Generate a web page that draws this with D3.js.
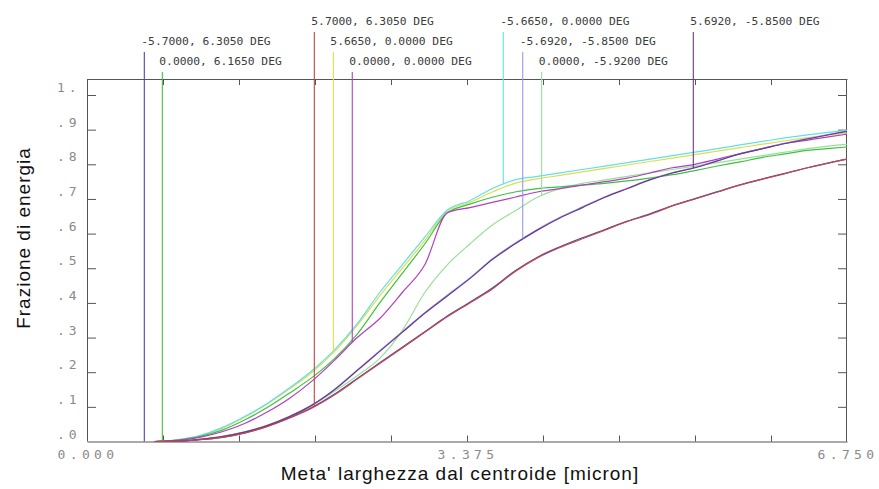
<!DOCTYPE html>
<html>
<head>
<meta charset="utf-8">
<style>
  html, body { margin: 0; padding: 0; background: #fff; }
  svg { display: block; }
</style>
</head>
<body>
<div id="ee-chart"></div>
<script src="https://cdn.jsdelivr.net/npm/d3@7"></script>
<script>
// half width from centroid (micron), shared by all curves
const radius = [0.6, 0.8, 1.0, 1.2, 1.4, 1.6, 1.8, 2.0, 2.2, 2.4, 2.6, 2.8, 3.0, 3.2, 3.4, 3.6,
  3.8, 4.0, 4.2, 4.4, 4.6, 4.8, 5.0, 5.2, 5.4, 5.6, 5.8, 6.0, 6.2, 6.4, 6.6, 6.75];

// encircled energy fraction, one array per field
const ee1 = [0, 0.001, 0.005, 0.012, 0.025, 0.044, 0.069, 0.099, 0.137, 0.182, 0.227, 0.272, 0.317, 0.362, 0.402, 0.443,
  0.492, 0.532, 0.562, 0.588, 0.612, 0.636, 0.657, 0.681, 0.701, 0.721, 0.741, 0.758, 0.774, 0.79, 0.805, 0.815];
const ee2 = [0, 0.004, 0.014, 0.033, 0.062, 0.098, 0.14, 0.185, 0.24, 0.31, 0.4, 0.485, 0.57, 0.66, 0.685, 0.705,
  0.72, 0.73, 0.735, 0.74, 0.745, 0.752, 0.76, 0.77, 0.782, 0.795, 0.807, 0.82, 0.83, 0.84, 0.846, 0.85];
const ee3 = [0, 0.001, 0.005, 0.012, 0.024, 0.043, 0.068, 0.097, 0.135, 0.18, 0.225, 0.27, 0.315, 0.36, 0.40, 0.44,
  0.49, 0.53, 0.56, 0.585, 0.61, 0.635, 0.655, 0.68, 0.70, 0.72, 0.74, 0.757, 0.773, 0.79, 0.805, 0.815];
const ee4 = [0, 0.005, 0.016, 0.038, 0.07, 0.108, 0.152, 0.2, 0.26, 0.335, 0.42, 0.5, 0.58, 0.665, 0.69, 0.72,
  0.745, 0.758, 0.768, 0.778, 0.788, 0.798, 0.808, 0.818, 0.828, 0.838, 0.848, 0.858, 0.868, 0.877, 0.885, 0.89];
const ee5 = [0, 0.003, 0.012, 0.028, 0.052, 0.085, 0.125, 0.175, 0.235, 0.3, 0.355, 0.43, 0.51, 0.66, 0.675, 0.69,
  0.705, 0.72, 0.73, 0.74, 0.75, 0.76, 0.775, 0.79, 0.80, 0.815, 0.83, 0.845, 0.86, 0.87, 0.88, 0.887];
const ee6 = [0, 0.005, 0.017, 0.04, 0.072, 0.11, 0.155, 0.205, 0.265, 0.34, 0.43, 0.51, 0.59, 0.668, 0.695, 0.73,
  0.755, 0.765, 0.775, 0.785, 0.795, 0.805, 0.815, 0.825, 0.835, 0.845, 0.856, 0.866, 0.876, 0.885, 0.893, 0.898];
const ee7 = [0, 0.001, 0.006, 0.015, 0.028, 0.047, 0.073, 0.106, 0.151, 0.206, 0.262, 0.317, 0.372, 0.422, 0.472, 0.527,
  0.572, 0.612, 0.647, 0.677, 0.706, 0.731, 0.756, 0.776, 0.791, 0.811, 0.831, 0.846, 0.861, 0.874, 0.887, 0.896];
const ee8 = [0, 0.001, 0.006, 0.014, 0.027, 0.046, 0.072, 0.105, 0.145, 0.19, 0.24, 0.32, 0.43, 0.51, 0.57, 0.625,
  0.665, 0.705, 0.73, 0.745, 0.755, 0.765, 0.775, 0.785, 0.795, 0.805, 0.815, 0.825, 0.835, 0.845, 0.853, 0.858];
const ee9 = [0, 0.001, 0.006, 0.014, 0.027, 0.046, 0.072, 0.105, 0.15, 0.205, 0.26, 0.315, 0.37, 0.42, 0.47, 0.525,
  0.57, 0.61, 0.645, 0.675, 0.705, 0.73, 0.755, 0.775, 0.79, 0.81, 0.83, 0.845, 0.86, 0.873, 0.886, 0.895];

const fieldLabels = ["-5.7000, 6.3050 DEG", "0.0000, 6.1650 DEG", "5.7000, 6.3050 DEG",
  "5.6650, 0.0000 DEG", "0.0000, 0.0000 DEG", "-5.6650, 0.0000 DEG",
  "-5.6920, -5.8500 DEG", "0.0000, -5.9200 DEG", "5.6920, -5.8500 DEG"];
const fieldColors = ["#4848b0", "#40c040", "#c04848", "#dede50", "#b040c0",
  "#60e0e8", "#9898f0", "#98e098", "#6a3a8a"];
// where each field's marker line sits on the x axis
const markerX = [0.509, 0.669, 2.019, 2.188, 2.356, 3.697, 3.870, 4.038, 5.385];

const xTickValues = [0, 3.375, 6.75];
const xTickLabels = ["0.000", "3.375", "6.750"];
const yTickValues = [1, 0.9, 0.8, 0.7, 0.6, 0.5, 0.4, 0.3, 0.2, 0.1, 0];
const yTickLabels = ["1.", ".9", ".8", ".7", ".6", ".5", ".4", ".3", ".2", ".1", ".0"];

let el = document.querySelector("#ee-chart");
render(el);

function valueAt(xs, ys, v) {
    if (v <= xs[0]) return ys[0];
    let i = d3.bisectLeft(xs, v);
    if (i >= xs.length) return ys[ys.length - 1];
    let t = (v - xs[i - 1]) / (xs[i] - xs[i - 1]);
    return ys[i - 1] + t * (ys[i] - ys[i - 1]);
}

function render(element) {
    element.innerHTML = "";
    const W = 879, H = 489;
    let margin = { top: 79, right: 32, bottom: 47.5, left: 87 };
    let width = W - margin.left - margin.right;
    let height = H - margin.top - margin.bottom;

    let series = [ee1, ee2, ee3, ee4, ee5, ee6, ee7, ee8, ee9];

    let svg = d3.select(element)
        .append("svg")
        .attr("width", W)
        .attr("height", H)
        .style("font-family", "'DejaVu Sans Mono', monospace");

    let g = svg.append("g")
        .attr("transform", "translate(" + margin.left + "," + margin.top + ")");

    var x = d3.scaleLinear().domain([0, 6.75]).range([0, width]);
    // 1.0 sits 16px below the frame top
    var y = d3.scaleLinear().domain([0, 1]).range([height, 16]);

    // frame with inward ticks on all four sides
    let minor = d3.range(1, 10).map(k => k * 0.675);
    let yt = d3.range(1, 11).map(k => k / 10);
    let axes = [
        g.append("g").attr("transform", "translate(0," + height + ")")
            .call(d3.axisBottom(x).tickValues(minor).tickSize(-6).tickSizeOuter(0).tickFormat("")),
        g.append("g")
            .call(d3.axisTop(x).tickValues(minor).tickSize(-6).tickSizeOuter(0).tickFormat("")),
        g.append("g")
            .call(d3.axisLeft(y).tickValues(yt).tickSize(-9).tickSizeOuter(0).tickFormat("")),
        g.append("g").attr("transform", "translate(" + width + ",0)")
            .call(d3.axisRight(y).tickValues(yt).tickSize(-9).tickSizeOuter(0).tickFormat(""))
    ];
    axes.forEach(a => {
        a.select(".domain").attr("stroke", "#555");
        a.selectAll(".tick line").attr("stroke", "#555");
    });
    // stretch left/right domain lines up to the frame top
    axes[2].select(".domain").attr("d", "M0.5," + height + "V0");
    axes[3].select(".domain").attr("d", "M-0.5," + height + "V0");

    // tick labels
    g.selectAll("ylab")
        .data(yTickLabels)
        .enter()
        .append("text")
        .attr("x", -30)
        .attr("y", (d, i) => y(yTickValues[i]) - 3)
        .attr("fill", "#8a8a8a")
        .style("font-size", "13px")
        .style("letter-spacing", "4px")
        .text(d => d);

    g.selectAll("xlab")
        .data(xTickLabels)
        .enter()
        .append("text")
        .attr("x", (d, i) => x(xTickValues[i]) + 1)
        .attr("y", height + 17)
        .attr("text-anchor", "middle")
        .attr("fill", "#8a8a8a")
        .style("font-size", "13px")
        .style("letter-spacing", "4.4px")
        .text(d => d);

    // curves
    let line = d3.line()
        .x((d, i) => x(radius[i]))
        .y(d => y(d))
        .curve(d3.curveMonotoneX);

    let curves = g.append("g");
    // draw light colours first so the dark ones stay on top
    let order = [7, 3, 5, 1, 4, 6, 0, 8, 2];
    order.forEach(k => {
        curves.append("path")
            .attr("d", line(series[k]))
            .attr("fill", "none")
            .attr("stroke", fieldColors[k])
            .attr("stroke-width", 1.2);
    });

    // field markers: label rows on top, line down to the curve
    let rowY = [-54, -34, -14];
    fieldLabels.forEach((lab, k) => {
        let row = (k + 1) % 3;
        let px = x(markerX[k]);
        let v = valueAt(radius, series[k], markerX[k]);
        g.append("line")
            .attr("x1", px).attr("x2", px)
            .attr("y1", rowY[row] + 7)
            .attr("y2", y(v))
            .attr("stroke", fieldColors[k])
            .attr("stroke-width", 1.1);
        g.append("text")
            .attr("x", px - 3)
            .attr("y", rowY[row])
            .attr("fill", "#3c3c3c")
            .style("font-size", "11.3px")
            .text(lab);
    });

    // axis titles
    svg.append("text")
        .attr("x", 460)
        .attr("y", 480)
        .attr("text-anchor", "middle")
        .style("font-family", "'Liberation Sans', Arial, sans-serif")
        .style("font-size", "19px")
        .style("letter-spacing", "1px")
        .attr("fill", "#111")
        .text("Meta' larghezza dal centroide [micron]");

    svg.append("text")
        .attr("transform", "translate(30,238) rotate(-90)")
        .attr("text-anchor", "middle")
        .style("font-family", "'Liberation Sans', Arial, sans-serif")
        .style("font-size", "19px")
        .style("letter-spacing", "1px")
        .attr("fill", "#111")
        .text("Frazione di energia");
}
</script>
</body>
</html>
